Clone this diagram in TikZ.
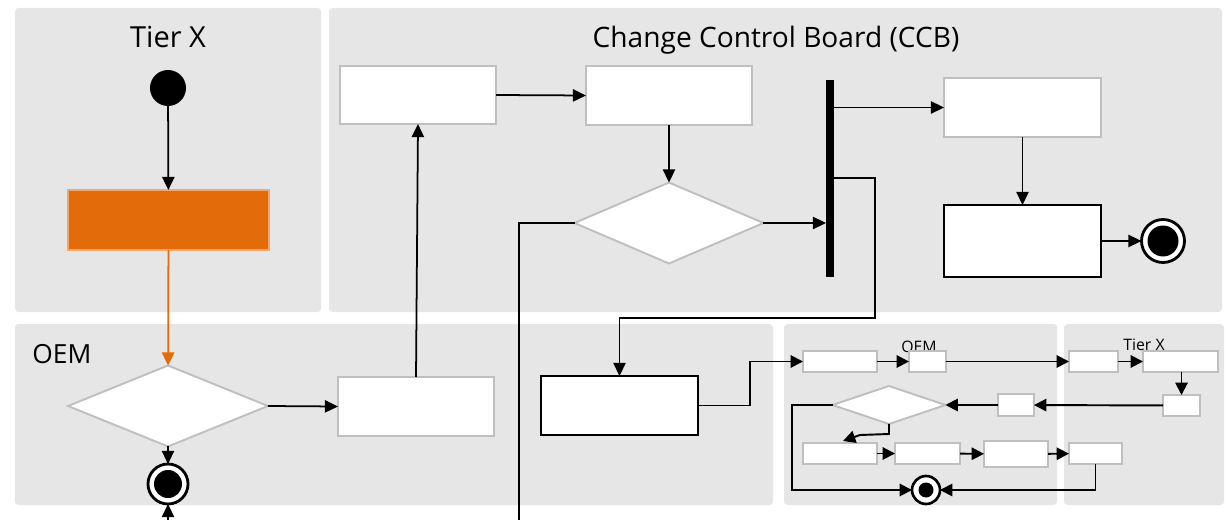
\documentclass[tikz,border=0pt]{standalone}
\usepackage{fontspec}
\setmainfont{Open Sans}
\usetikzlibrary{arrows.meta,shapes.geometric}
\definecolor{panelgray}{HTML}{E6E6E6}
\definecolor{boxgray}{HTML}{BFBFBF}
\definecolor{orng}{HTML}{E36C0A}
\definecolor{orngedge}{HTML}{F4A66E}
\newcommand\mkbox[6]{\node[#1, minimum width={(#4-(#2))*0.02cm}, minimum height={(#5-(#3))*0.02cm}] (#6) at ({(#2+#4)/2},{(#3+#5)/2}) {};}
\begin{document}
\begin{tikzpicture}[x=0.02cm,y=-0.02cm,
  panel/.style={fill=panelgray, rounded corners=0.07cm},
  wbox/.style={draw=boxgray, fill=white, line width=1.1pt, inner sep=0pt, outer sep=0pt},
  kbox/.style={draw=black, fill=white, line width=1.2pt, inner sep=0pt, outer sep=0pt},
  obox/.style={draw=orngedge, fill=orng, line width=1pt, inner sep=0pt, outer sep=0pt},
  wdia/.style={diamond, draw=boxgray, fill=white, line width=1.1pt, inner sep=0pt, outer sep=0pt},
  startnode/.style={circle, fill=black, inner sep=0pt, outer sep=0pt, minimum size=0.72cm},
  endnode/.style={circle, draw=black, fill=white, line width=#1, inner sep=0pt, outer sep=0pt},
  conn/.style={line width=1pt, -{Triangle[length=7.5pt,width=7pt]}},
  sconn/.style={line width=1.1pt, -{Triangle[length=7pt,width=7pt]}},
  lbl/.style={inner sep=0pt, anchor=base}
]
\useasboundingbox (0,0) rectangle (1227,520);
\clip (0,0) rectangle (1227,520);
% panels
\fill[panel] (15,8) rectangle (321,312);
\fill[panel] (329,8) rectangle (1222,312);
\fill[panel] (15,324) rectangle (773,505);
\fill[panel] (784,324) rectangle (1057,505);
\fill[panel] (1064,324) rectangle (1224,505);
% titles
\node[lbl, font=\fontsize{16.5}{19}\selectfont] (tTier) at (168,48) {Tier X};
\node[lbl, font=\fontsize{16}{19}\selectfont] (tCCB) at (776,48) {Change Control Board (CCB)};
\node[lbl, anchor=base west, font=\fontsize{15}{18}\selectfont] (tOEM) at (32,363) {OEM};
\node[lbl, font=\fontsize{9}{11}\selectfont] (sOEM) at (919,352) {OEM};
\node[lbl, font=\fontsize{9}{11}\selectfont] (sTier) at (1144,350) {Tier X};
% Tier X lane
\node[startnode] (start) at (168,88) {};
\mkbox{obox}{68}{190}{269}{250}{orange}
% OEM lane
\node[wdia, minimum width=4cm, minimum height=1.62cm] (od) at (168,406) {};
\node[endnode=1.6pt, minimum size=0.8cm, path picture={\fill[black] (path picture bounding box.center) circle (0.28cm);}] (oend) at (168,484) {};
\mkbox{wbox}{338}{377}{494}{436}{orect}
% CCB
\mkbox{wbox}{340}{66}{496}{124}{c1}
\mkbox{wbox}{586}{66}{752}{125}{c2}
\node[wdia, minimum width=3.78cm, minimum height=1.62cm] (cd) at (669,223) {};
\mkbox{fill=black, inner sep=0pt, outer sep=0pt}{826}{80}{834}{277}{bar}
\mkbox{wbox}{944}{78}{1101}{137}{c3}
\mkbox{kbox}{944}{205}{1101}{277}{c4}
\node[endnode=1.6pt, minimum size=0.86cm, path picture={\fill[black] (path picture bounding box.center) circle (0.31cm);}] (cend) at (1163,241) {};
\mkbox{kbox}{541}{376}{698}{435}{m1}
% lower right panels
\mkbox{wbox}{803}{351}{877}{372}{A}
\mkbox{wbox}{909}{351}{946}{372}{B}
\mkbox{wbox}{1069}{351}{1118}{372}{C}
\mkbox{wbox}{1143}{351}{1218}{372}{D}
\mkbox{wbox}{1163}{395}{1200}{416}{E}
\mkbox{wbox}{998}{394}{1034}{416}{F}
\node[wdia, minimum width=2.26cm, minimum height=0.76cm] (sd) at (889,405) {};
\mkbox{wbox}{803}{443}{877}{464}{G}
\mkbox{wbox}{895}{443}{960}{464}{H}
\mkbox{wbox}{984}{441}{1048}{467}{I}
\mkbox{wbox}{1069}{443}{1122}{464}{J}
\node[endnode=1.5pt, minimum size=0.56cm, path picture={\fill[black] (path picture bounding box.center) circle (0.15cm);}] (send) at (926,490) {};
% bend coordinates
\coordinate (offL) at (519,545);
\coordinate (barR) at (875,178);
\coordinate (barD) at (875,318);
\coordinate (mR) at (750,405.5);
\coordinate (sdA) at (889,434);
\coordinate (sdB) at (860,435);
\coordinate (sdC) at (843,441);
\coordinate (jD) at (1095.5,490);
\coordinate (lL) at (792,405);
\coordinate (lD) at (792,490);
% connectors
\draw[conn] (start) -- (orange);
\draw[conn, draw=orng, color=orng] (orange) -- (od);
\draw[conn] (od.south) -- (oend.north);
\draw[conn] (cd.west) -| (offL) -| (oend.south);
\draw[conn] (od.east) -- (orect.west);
\draw[conn] (orect.north) -- (c1.south);
\draw[conn] (c1.east) -- (c2.west);
\draw[conn] (c2.south) -- (cd.north);
\draw[conn] (cd.east) -- (bar.west |- cd.east);
\draw[conn] (bar.east |- c3.west) -- (c3.west);
\draw[conn] (bar.east |- barR) -- (barR) -- (barD) -| (m1.north);
\draw[conn] (c3.south) -- (c4.north);
\draw[conn] (c4.east) -- (cend.west);
\draw[sconn] (m1.east) -- (mR) |- (A.west);
\draw[sconn] (A) -- (B);
\draw[sconn] (B) -- (C);
\draw[sconn] (C) -- (D);
\draw[sconn] (D.south -| E.north) -- (E.north);
\draw[sconn] (E) -- (F);
\draw[sconn] (F.west) -- (sd.east);
\draw[sconn] (sd.south) -- (sdA) -- (sdB) -- (sdC);
\draw[sconn] (G) -- (H);
\draw[sconn] (H) -- (I);
\draw[sconn] (I) -- (J);
\draw[sconn] (J.south) -- (jD) -- (send.east);
\draw[sconn] (sd.west) -- (lL) -- (lD) -- (send.west);
\end{tikzpicture}
\end{document}
